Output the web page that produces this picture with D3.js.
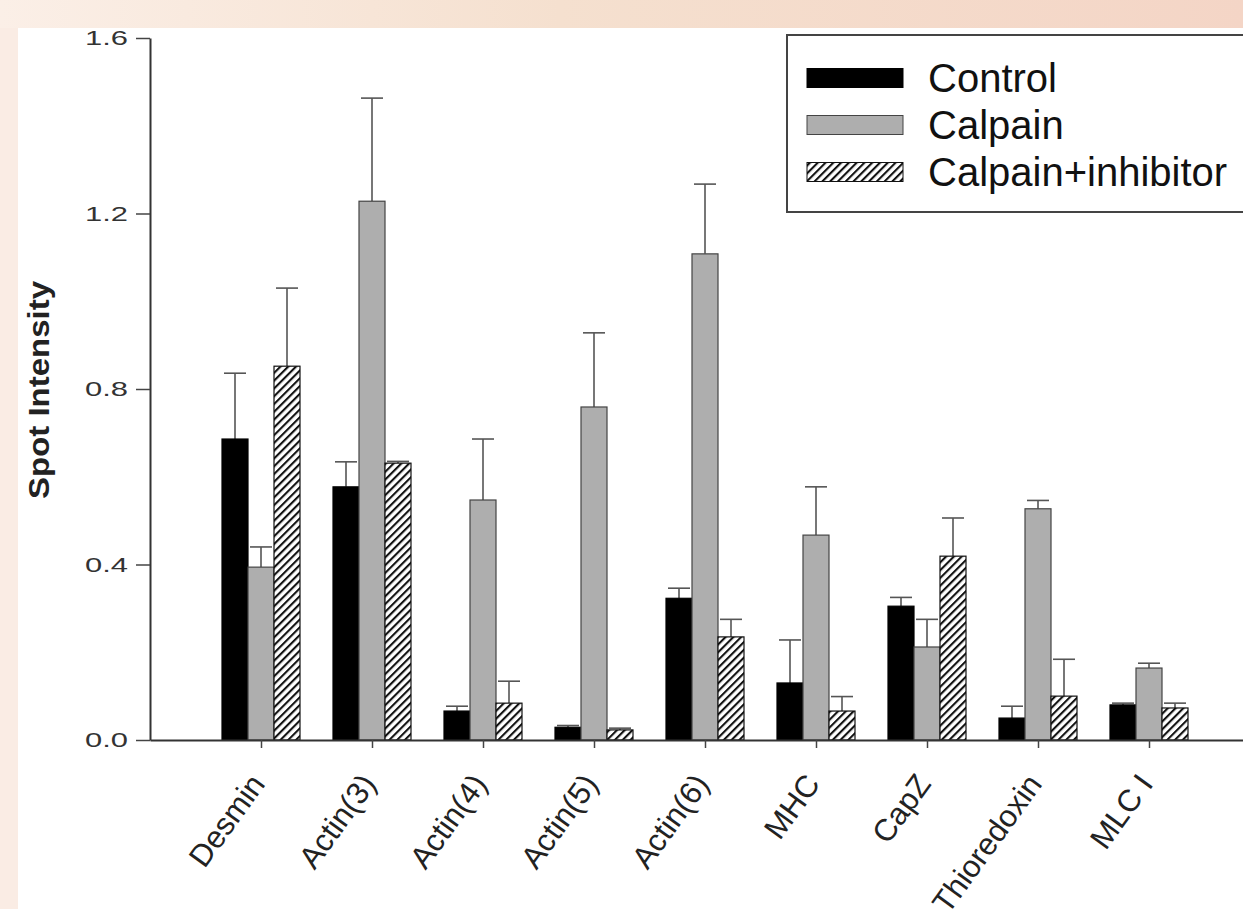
<!DOCTYPE html>
<html>
<head>
<meta charset="utf-8">
<script src="https://cdn.jsdelivr.net/npm/d3@7"></script>
<style>
  html, body { margin: 0; padding: 0; background: #fff; }
  svg { display: block; font-family: "Liberation Sans", Arial, sans-serif; }
</style>
</head>
<body>
<svg id="chart" width="1243" height="909"></svg>
<script>
// protein spots on the x axis
const categories = ['Desmin', 'Actin(3)', 'Actin(4)', 'Actin(5)', 'Actin(6)', 'MHC', 'CapZ', 'Thioredoxin', 'MLC I'];
const seriesNames = ['Control', 'Calpain', 'Calpain+inhibitor'];

// spot intensity means and (upper) error bars
const control      = [0.686, 0.577, 0.066, 0.029, 0.323, 0.130, 0.305, 0.050, 0.080];
const controlErr   = [0.150, 0.057, 0.011, 0.004, 0.023, 0.098, 0.020, 0.027, 0.004];
const calpain      = [0.394, 1.228, 0.547, 0.759, 1.108, 0.467, 0.212, 0.527, 0.164];
const calpainErr   = [0.046, 0.235, 0.139, 0.169, 0.159, 0.110, 0.063, 0.019, 0.011];
const inhibitor    = [0.852, 0.631, 0.084, 0.023, 0.235, 0.066, 0.419, 0.100, 0.073];
const inhibitorErr = [0.178, 0.004, 0.050, 0.004, 0.040, 0.033, 0.087, 0.084, 0.011];

const yTicks = [0, 0.4, 0.8, 1.2, 1.6];

const W = 1243, H = 909;
const svg = d3.select('#chart');

// peach frame behind the white figure panel
const defs = svg.append('defs');
const grad = defs.append('linearGradient').attr('id', 'frame').attr('x1', 0).attr('x2', 1).attr('y1', 0).attr('y2', 0);
grad.append('stop').attr('offset', '0%').attr('stop-color', '#fbefe7');
grad.append('stop').attr('offset', '45%').attr('stop-color', '#f5e0cf');
grad.append('stop').attr('offset', '100%').attr('stop-color', '#f4d5c6');

const hatch = defs.append('pattern')
  .attr('id', 'hatch')
  .attr('patternUnits', 'userSpaceOnUse')
  .attr('width', 5.5).attr('height', 5.5)
  .attr('patternTransform', 'rotate(45)');
hatch.append('rect').attr('width', 5.5).attr('height', 5.5).attr('fill', '#fff');
hatch.append('line').attr('x1', 1).attr('x2', 1).attr('y1', 0).attr('y2', 5.5)
  .attr('stroke', '#111').attr('stroke-width', 2.2);

svg.append('rect').attr('width', W).attr('height', H).attr('fill', 'url(#frame)');
svg.append('rect').attr('x', 0).attr('y', 28).attr('width', 18).attr('height', H).attr('fill', '#faece4');
svg.append('rect').attr('x', 18).attr('y', 28).attr('width', W).attr('height', H).attr('fill', '#fff');

const margin = {left: 150, top: 38, bottom: 740};

const x = d3.scalePoint().domain(categories).range([margin.left, 1260]).padding(1);
const y = d3.scaleLinear().domain([0, 1.6]).range([margin.bottom, margin.top]);

const barW = 26;
const series = [
  {name: seriesNames[0], values: control, err: controlErr, fill: '#000', stroke: '#000'},
  {name: seriesNames[1], values: calpain, err: calpainErr, fill: '#aeaeae', stroke: '#444'},
  {name: seriesNames[2], values: inhibitor, err: inhibitorErr, fill: 'url(#hatch)', stroke: '#111'}
];

// error bars first, so the bars sit on top of their stems
series.forEach(function(s, si) {
  const g = svg.append('g').attr('class', 'err');
  categories.forEach(function(c, i) {
    const cx = x(c) + (si - 1) * barW;
    const top = y(s.values[i] + s.err[i]);
    g.append('line')
      .attr('x1', cx).attr('x2', cx)
      .attr('y1', y(s.values[i])).attr('y2', top)
      .attr('stroke', '#555').attr('stroke-width', 1.6);
    g.append('line')
      .attr('x1', cx - 11).attr('x2', cx + 11)
      .attr('y1', top).attr('y2', top)
      .attr('stroke', '#555').attr('stroke-width', 1.6);
  });
});

series.forEach(function(s, si) {
  svg.append('g').attr('class', 'bars')
    .selectAll('rect')
    .data(categories)
    .enter().append('rect')
    .attr('x', function(c) { return x(c) + (si - 1) * barW - barW / 2; })
    .attr('width', barW)
    .attr('y', function(c, i) { return y(s.values[i]); })
    .attr('height', function(c, i) { return y(0) - y(s.values[i]); })
    .attr('fill', s.fill)
    .attr('stroke', s.stroke)
    .attr('stroke-width', 1.2);
});

// Y axis
const yAxis = svg.append('g')
  .attr('transform', `translate(${margin.left},0)`)
  .call(d3.axisLeft(y).tickValues(yTicks).tickFormat(d3.format('.1f')).tickSize(14).tickSizeOuter(0).tickPadding(8));
yAxis.select('.domain').attr('stroke', '#333').attr('stroke-width', 2);
yAxis.selectAll('.tick line').attr('stroke', '#444').attr('stroke-width', 1.5);
yAxis.selectAll('.tick text')
  .attr('font-size', 21).attr('fill', '#333')
  .attr('font-family', '"Liberation Sans", Arial, sans-serif')
  .attr('textLength', 43).attr('lengthAdjust', 'spacingAndGlyphs');

// X axis
const xAxis = svg.append('g')
  .attr('transform', `translate(0,${margin.bottom})`)
  .call(d3.axisBottom(x).tickSize(8).tickSizeOuter(0));
xAxis.select('.domain').attr('stroke', '#333').attr('stroke-width', 2);
xAxis.selectAll('.tick line').attr('stroke', '#444').attr('stroke-width', 1.5);
xAxis.selectAll('.tick text')
  .attr('font-size', 31).attr('fill', '#222')
  .attr('font-family', '"Liberation Sans", Arial, sans-serif')
  .attr('text-anchor', 'end')
  .attr('x', -33).attr('y', 19).attr('dy', '0.35em')
  .attr('transform', 'rotate(-54)');

// axis title
svg.append('text')
  .attr('transform', 'translate(49,390) rotate(-90)')
  .attr('text-anchor', 'middle')
  .attr('font-size', 30)
  .attr('font-weight', 'bold')
  .attr('fill', '#222')
  .attr('textLength', 218).attr('lengthAdjust', 'spacingAndGlyphs')
  .text('Spot Intensity');

// legend
const legend = svg.append('g').attr('class', 'legend');
legend.append('rect')
  .attr('x', 787).attr('y', 35).attr('width', 500).attr('height', 177)
  .attr('fill', '#fff').attr('stroke', '#444').attr('stroke-width', 2);
const rows = legend.selectAll('g.row')
  .data(series)
  .enter().append('g')
  .attr('class', 'row')
  .attr('transform', function(d, i) { return `translate(807,${78 + i * 47})`; });
rows.append('rect')
  .attr('x', 0).attr('y', -9.5).attr('width', 96).attr('height', 19)
  .attr('fill', function(d) { return d.fill; })
  .attr('stroke', function(d) { return d.stroke; })
  .attr('stroke-width', 1);
rows.append('text')
  .attr('x', 121).attr('y', 14)
  .attr('font-size', 40)
  .attr('fill', '#111')
  .text(function(d) { return d.name; });
</script>
</body>
</html>
